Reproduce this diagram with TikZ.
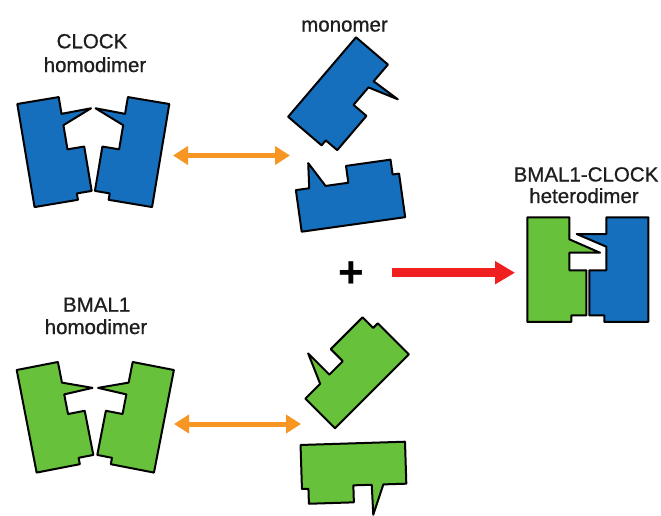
\documentclass[tikz,border=0pt]{standalone}
\usepackage{fontspec}
\setmainfont{Liberation Sans}
\newfontfamily\labelfont[FakeBold=0.8]{Liberation Sans}
\usetikzlibrary{arrows.meta}

\definecolor{protblue}{RGB}{21,111,189}
\definecolor{protgreen}{RGB}{103,193,58}
\definecolor{swaporange}{RGB}{247,150,35}
\definecolor{bindred}{RGB}{240,32,32}
\definecolor{labelgray}{RGB}{30,30,30}

\tikzset{
  subunit/.style={draw=black, line width=2pt, line join=round},
  lbl/.style={font=\labelfont\fontsize{20.5}{24}\selectfont, text=labelgray, anchor=base, inner sep=0pt},
  swaparrow/.style={draw=swaporange, line width=5pt,
    {Triangle[width=18pt,length=15pt]}-{Triangle[width=18pt,length=15pt]}},
  bindarrow/.style={draw=bindred, line width=9pt, -{Triangle[width=22pt,length=20pt]}},
}

% One protein subunit in its own frame (top-left corner at the origin, y down):
% #1 fill, #2/#3 where the cone leaves the inner edge, (#4,#5) the cone tip.
\newcommand{\protomer}[5]{%
  \filldraw[subunit, fill=#1]
    (0,0) -- (42,0) -- (42,#2) -- (#4,#5) -- (42,#3) -- (42,53) -- (59,53)
    -- (59,98) -- (44,98) -- (44,104.5) -- (0,104.5) -- cycle;
}

\begin{document}
\begin{tikzpicture}[x=1pt, y=-1pt]
  \useasboundingbox[fill=white] (0,0) rectangle (661,515);

  % CLOCK homodimer
  \node[lbl] (clockname) at (92,48.3) {CLOCK};
  \node[lbl] (clockkind) at (95,72) {homodimer};
  \begin{scope}[shift={(17.3,104)}, rotate=9.5]
    \protomer{protblue}{17}{28.5}{72}{16.4}
  \end{scope}
  \begin{scope}[shift={(169.3,104)}, rotate=-9.5, xscale=-1]
    \protomer{protblue}{17}{28.5}{72}{16.4}
  \end{scope}

  % free monomers
  \node[lbl] (mononame) at (344.5,31.5) {monomer};
  \begin{scope}[shift={(356,37.3)}, rotate=-40.5]
    \protomer{protblue}{22}{30}{72}{20}
  \end{scope}
  \begin{scope}[shift={(301.7,231.7)}, rotate=98]
    \protomer{protblue}{13.5}{30}{67}{16}
  \end{scope}
  \begin{scope}[shift={(335,428.3)}, rotate=135]
    \protomer{protgreen}{21}{34}{72}{34}
  \end{scope}
  \begin{scope}[shift={(405,441.7)}, rotate=-88.2]
    \protomer{protgreen}{23}{34.6}{72}{34}
  \end{scope}

  % BMAL1 homodimer
  \node[lbl] (bmalname) at (96.7,311.7) {BMAL1};
  \node[lbl] (bmalkind) at (96,334) {homodimer};
  \begin{scope}[shift={(16.7,370)}, rotate=11]
    \protomer{protgreen}{21}{33}{71}{32}
  \end{scope}
  \begin{scope}[shift={(173.9,370)}, rotate=-11, xscale=-1]
    \protomer{protgreen}{21}{33}{71}{32}
  \end{scope}

  % BMAL1-CLOCK heterodimer
  \node[lbl] (hetname) at (586,181.5) {BMAL1-CLOCK};
  \node[lbl] (hetkind) at (584,203) {heterodimer};
  \begin{scope}[shift={(527.3,217.3)}]
    \protomer{protgreen}{22}{35.4}{72.7}{35.4}
  \end{scope}
  \begin{scope}[shift={(648.3,217.3)}, xscale=-1]
    \protomer{protblue}{16.7}{29.4}{71.6}{16.7}
  \end{scope}

  % exchange and association arrows
  \coordinate (swapTopL) at (173,155.5);
  \coordinate (swapTopR) at (290,155.5);
  \coordinate (swapBotL) at (174,424);
  \coordinate (swapBotR) at (301,424);
  \draw[swaparrow] (swapTopL) -- (swapTopR);
  \draw[swaparrow] (swapBotL) -- (swapBotR);

  \node[font=\fontsize{44}{44}\selectfont\bfseries, text=black, inner sep=0pt] (plus) at (351.7,274.5) {+};
  \coordinate (bindL) at (391.5,272.7);
  \coordinate (bindR) at (515,272.7);
  \draw[bindarrow] (bindL) -- (bindR);
\end{tikzpicture}
\end{document}
